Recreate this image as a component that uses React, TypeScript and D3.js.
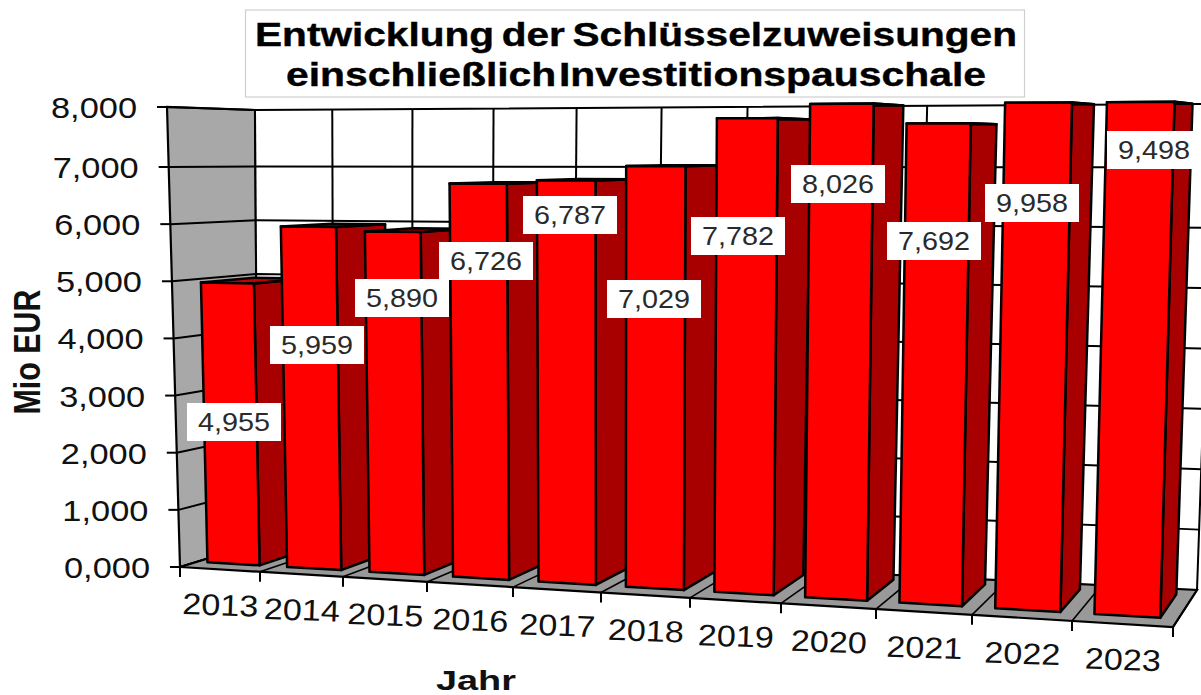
import React from "react";
import * as d3 from "d3";

const years = ["2013","2014","2015","2016","2017","2018","2019","2020","2021","2022","2023"];
const values = [4955,5959,5890,6726,6787,7029,7782,8026,7692,9958,9498];
const valueLabels = ["4,955","5,959","5,890","6,726","6,787","7,029","7,782","8,026","7,692","9,958","9,498"];
const yTicks = [0,1000,2000,3000,4000,5000,6000,7000,8000];
const yTickLabels = ["0,000","1,000","2,000","3,000","4,000","5,000","6,000","7,000","8,000"];
const titleLines = ["Entwicklung der Schlüsselzuweisungen","einschließlich Investitionspauschale"];

// layout
const W = 1201, H = 695;
const corners = {
  flb:[180,567], frb:[1173,627], flt:[167,107], frt:[1187,101],
  blb:[258,543], brb:[1197,590], blt:[255,110], brt:[1214,104],
};
const frontTickX = [180,260,343,427,513,601,690,781,876,972,1072,1173];
const labelCentres = [[234,422],[317,345],[402,298],[486,261],[570,215],[654,299],[738,236],[838,184],[934,241],[1032,203],[1154,150]];

const uScale = d3.scaleLinear().domain(d3.range(12)).range(frontTickX.map(x => (x-180)/(1173-180)));
const vScale = d3.scaleLinear().domain([0,7000,8000]).range([0,0.8696,1]).clamp(true);
const gapScale = d3.scaleLinear().domain([0,10]).range([0.13,0.16]);
const lerp = (a:number,b:number,t:number)=>a+(b-a)*t;
function P(u:number,value:number,d:number):[number,number]{
  const s=uScale(u), t=vScale(value);
  const out:[number,number]=[0,0];
  for(const i of [0,1]){
    const fb=lerp(corners.flb[i],corners.frb[i],s), ft=lerp(corners.flt[i],corners.frt[i],s);
    const bb=lerp(corners.blb[i],corners.brb[i],s), bt=lerp(corners.blt[i],corners.brt[i],s);
    out[i]=lerp(lerp(fb,ft,t),lerp(bb,bt,t),d);
  }
  return out;
}
const lineGen = d3.line();
const poly=(pts:[number,number][])=>lineGen(pts)+"Z";

const Face=({pts,fill}:{pts:[number,number][],fill:string})=>(
  <path d={poly(pts)} fill={fill} stroke="#000" strokeWidth={2.5} strokeLinejoin="round"/>
);

export default function App(){
  const font="'Liberation Sans', Arial, sans-serif";
  return (
    <svg width={W} height={H} viewBox={`0 0 ${W} ${H}`} style={{position:"absolute",left:0,top:0,background:"#fff",overflow:"hidden"}} fontFamily={font}>
      {/* left wall */}
      <path d={poly([P(0,0,0),P(0,8000,0),P(0,8000,1),P(0,0,1)])} fill="#a8a8a8" stroke="#000" strokeWidth={2.2}/>
      {/* back wall */}
      <path d={poly([P(0,0,1),P(0,8000,1),P(11,8000,1),P(11,0,1)])} fill="#fff" stroke="none"/>
      {/* floor */}
      <path d={poly([P(0,0,0),P(11,0,0),P(11,0,1),P(0,0,1)])} fill="#999" stroke="#000" strokeWidth={2.2}/>
      {/* gridlines */}
      {yTicks.filter(v=>v>0).map(v=>(
        <path key={v} d={lineGen([P(0,v,0),P(0,v,1),P(11,v,1)])!} fill="none" stroke="#000" strokeWidth={2}/>
      ))}
      {d3.range(0,12).map(i=>(
        <path key={i} d={lineGen([P(i,0,1),P(i,8000,1)])!} stroke="#000" strokeWidth={2} fill="none"/>
      ))}
      {d3.range(0,12).map(i=>(
        <path key={i} d={lineGen([P(i,0,0),P(i,0,1)])!} stroke="#000" strokeWidth={1.6} fill="none"/>
      ))}
      {/* axis ticks */}
      {yTicks.map((v,i)=>{
        const [x,y]=P(0,v,0);
        return <g key={v}>
          <line x1={x} y1={y} x2={x-10} y2={y} stroke="#000" strokeWidth={2}/>
          <text x={x-30} y={y+11} textAnchor="end" fontSize={30} fill="#111" textLength={86} lengthAdjust="spacingAndGlyphs">{yTickLabels[i]}</text>
        </g>;
      })}
      {frontTickX.map((_,i)=>{
        const [x,y]=P(i,0,0);
        return <line key={i} x1={x} y1={y} x2={x} y2={y+10} stroke="#000" strokeWidth={2}/>;
      })}
      {years.map((yr,i)=>{
        const [x,y]=P(i+0.5,0,0);
        return <text key={yr} transform={`translate(${x},${y+46}) rotate(2)`} textAnchor="middle" fontSize={30} fill="#111" textLength={76} lengthAdjust="spacingAndGlyphs">{yr}</text>;
      })}
      {/* bars */}
      {values.map((v,i)=>{
        const e=gapScale(i), u0=i+e, u1=i+e+0.66, d0=0.22, d1=0.86;
        return <g key={i}>
          <Face pts={[P(u1,0,d0),P(u1,v,d0),P(u1,v,d1),P(u1,0,d1)]} fill="#a80000"/>
          <Face pts={[P(u0,v,d0),P(u1,v,d0),P(u1,v,d1),P(u0,v,d1)]} fill="#c80000"/>
          <Face pts={[P(u0,0,d0),P(u0,v,d0),P(u1,v,d0),P(u1,0,d0)]} fill="#ff0000"/>
        </g>;
      })}
      {/* value labels */}
      {values.map((v,i)=>{
        const [cx,cy]=labelCentres[i];
        return <g key={v}>
          <rect x={cx-47} y={cy-19} width={94} height={38} fill="#fff"/>
          <text x={cx} y={cy+9} textAnchor="middle" fontSize={26} fill="#2a2a2a" textLength={72} lengthAdjust="spacingAndGlyphs">{valueLabels[i]}</text>
        </g>;
      })}
      {/* title */}
      <rect x={245.5} y={10} width={779} height={87} fill="#fff" stroke="#cfcfcf" strokeWidth={1.2}/>
      <text x={636} y={46} textAnchor="middle" fontSize={33} fontWeight="bold" fill="#000" stroke="#000" strokeWidth={0.4} wordSpacing={-3} textLength={762} lengthAdjust="spacingAndGlyphs">{titleLines[0]}</text>
      <text x={636} y={86} textAnchor="middle" fontSize={33} fontWeight="bold" fill="#000" stroke="#000" strokeWidth={0.4} wordSpacing={-7} textLength={700} lengthAdjust="spacingAndGlyphs">{titleLines[1]}</text>
      {/* axis titles */}
      <text transform="translate(40,352) rotate(-90)" textAnchor="middle" fontSize={37} fontWeight="bold" fill="#111" textLength={125} lengthAdjust="spacingAndGlyphs">Mio EUR</text>
      <text x={476} y={690} textAnchor="middle" fontSize={27} fontWeight="bold" fill="#111" textLength={80} lengthAdjust="spacingAndGlyphs">Jahr</text>
    </svg>
  );
}
